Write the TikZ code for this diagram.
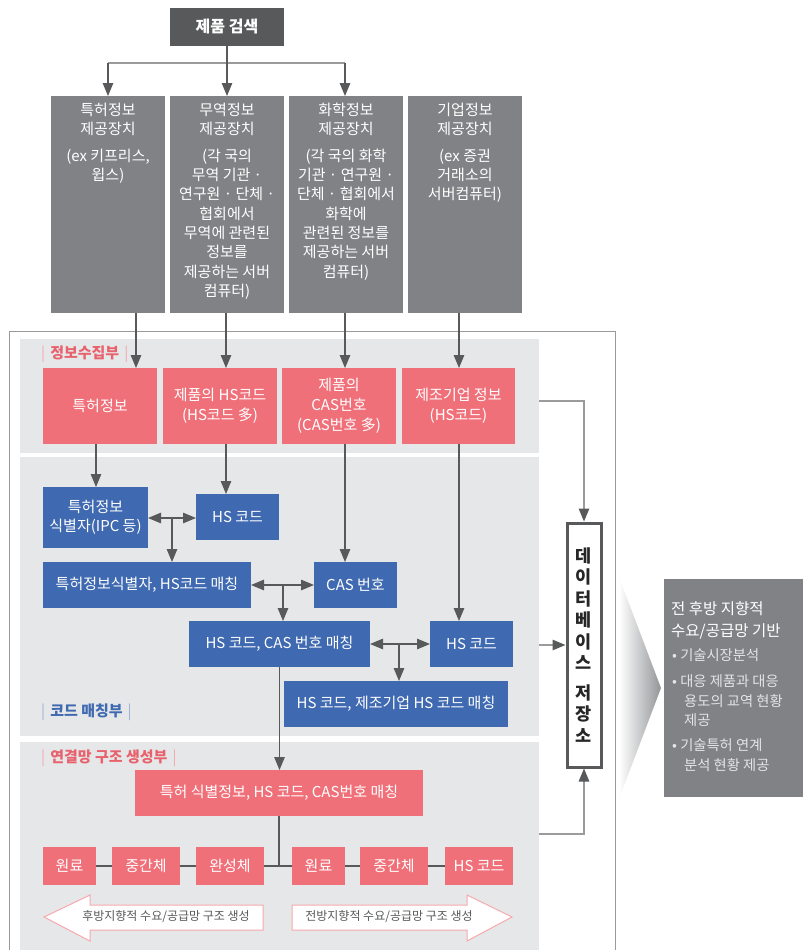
\documentclass[tikz,border=0pt]{standalone}
\usepackage{fontspec}
\setmainfont{Noto Sans CJK KR}
\usetikzlibrary{arrows.meta,calc}
\definecolor{dark}{HTML}{58595B}
\definecolor{gbox}{HTML}{808285}
\definecolor{secbg}{HTML}{E6E7E8}
\definecolor{pinkc}{HTML}{F0707A}
\definecolor{bluc}{HTML}{3F69B0}
\definecolor{labc}{HTML}{E8626E}
\definecolor{labbar}{HTML}{F3A9AE}
\definecolor{blubar}{HTML}{9DB2D8}
\definecolor{lline}{HTML}{9B9B9B}
\definecolor{framec}{HTML}{9A9A9A}
\definecolor{bultxt}{HTML}{E4E4E4}
\newcommand\mkbox[7]{%
 \pgfmathsetmacro\mkw{#4-#2}\pgfmathsetmacro\mkh{#5-#3}%
 \node[#6,minimum width=\mkw pt,minimum height=\mkh pt] (#1) at ({(#2+#4)/2},{(#3+#5)/2}) {#7};}
\begin{document}
\begin{tikzpicture}[x=1pt,y=-1pt,
  font=\fontsize{15}{19.3}\selectfont,
  box/.style={inner sep=0pt,outer sep=0pt,align=center,text=white},
  grayb/.style={box,fill=gbox},
  pinkb/.style={box,fill=pinkc,font=\fontsize{15}{20}\selectfont},
  blueb/.style={box,fill=bluc},
  sec/.style={fill=secbg,inner sep=0pt,outer sep=0pt},
  gtext/.style={anchor=north,align=center,text=white,inner sep=0pt},
  ln/.style={draw=dark,line width=1.2pt},
  lln/.style={draw=lline,line width=1.2pt},
  arr/.style={draw=dark,line width=1.2pt,-{Triangle[length=13pt,width=10.5pt]}},
  biarr/.style={draw=dark,line width=1.2pt,{Triangle[length=13pt,width=10.5pt]}-{Triangle[length=13pt,width=10.5pt]}},
  dbarr/.style={draw=lline,line width=1.2pt,-{Triangle[length=13pt,width=10.5pt,color=dark]}},
  seclab/.style={anchor=west,inner sep=0pt,font=\fontsize{15}{17}\selectfont\bfseries},
  bul/.style={anchor=west,inner sep=0pt,text=bultxt,font=\fontsize{14.3}{19}\selectfont},
  ptxt/.style={anchor=west,inner sep=0pt,text=white,font=\fontsize{15.5}{21}\selectfont},
  atxt/.style={inner sep=0pt,text=dark,font=\fontsize{12}{14}\selectfont}
]
\useasboundingbox (0,0) rectangle (810,950);
% outer frame
\draw[draw=framec,line width=1pt] (9,960) -- (9,331) -- (615,331) -- (615,960);
% sections
\mkbox{sec1}{20}{339}{539}{453}{sec}{}
\mkbox{sec2}{20}{457}{539}{736}{sec}{}
\mkbox{sec3}{20}{742}{539}{955}{sec}{}
% top search box
\mkbox{search}{170}{8}{284}{46}{box,fill=dark,font=\fontsize{16}{18}\selectfont\bfseries}{제품 검색}
% gray provider boxes
\mkbox{g1}{51}{96}{165}{313}{grayb}{}
\mkbox{g2}{170}{96}{284}{313}{grayb}{}
\mkbox{g3}{289}{96}{403}{313}{grayb}{}
\mkbox{g4}{408}{96}{522}{313}{grayb}{}
\node[gtext] (g1t) at (g1.north |- 0,103) {특허정보\\제공장치\\[7pt](ex 키프리스,\\윕스)};
\node[gtext] (g2t) at (g2.north |- 0,103) {무역정보\\제공장치\\[7pt](각 국의\\무역 기관 ·\\연구원 · 단체 ·\\협회에서\\무역에 관련된\\정보를\\제공하는 서버\\컴퓨터)};
\node[gtext] (g3t) at (g3.north |- 0,103) {화학정보\\제공장치\\[7pt](각 국의 화학\\기관 · 연구원 ·\\단체 · 협회에서\\화학에\\관련된 정보를\\제공하는 서버\\컴퓨터)};
\node[gtext] (g4t) at (g4.north |- 0,103) {기업정보\\제공장치\\[7pt](ex 증권\\거래소의\\서버컴퓨터)};
% section labels
\node[seclab,text=labc] (l1) at (41,354) {\textcolor{labbar}{\mdseries|}\hspace{5pt}정보수집부\hspace{5pt}\textcolor{labbar}{\mdseries|}};
\node[seclab,text=bluc] (l2) at (41,712) {\textcolor{blubar}{\mdseries|}\hspace{5pt}코드 매칭부\hspace{5pt}\textcolor{blubar}{\mdseries|}};
\node[seclab,text=labc] (l3) at (41,758) {\textcolor{labbar}{\mdseries|}\hspace{5pt}연결망 구조 생성부\hspace{5pt}\textcolor{labbar}{\mdseries|}};
% pink boxes
\mkbox{p1}{43}{368}{157}{444}{pinkb}{특허정보}
\mkbox{p2}{163}{368}{277}{444}{pinkb}{제품의 HS코드\\(HS코드 多)}
\mkbox{p3}{282}{368}{396}{444}{pinkb}{제품의\\CAS번호\\(CAS번호 多)}
\mkbox{p4}{402}{368}{515}{444}{pinkb}{제조기업 정보\\(HS코드)}
% blue boxes
\mkbox{idf}{43}{487}{148}{548}{blueb}{특허정보\\식별자(IPC 등)}
\mkbox{hs1}{196}{494}{279}{540}{blueb}{HS 코드}
\mkbox{m1}{43}{562}{251}{608}{blueb}{특허정보식별자, HS코드 매칭}
\mkbox{cas}{314}{562}{397}{608}{blueb}{CAS 번호}
\mkbox{m2}{189}{621}{370}{667}{blueb}{HS 코드, CAS 번호 매칭}
\mkbox{hs2}{430}{621}{513}{667}{blueb}{HS 코드}
\mkbox{m3}{284}{681}{508}{727}{blueb}{HS 코드, 제조기업 HS 코드 매칭}
% section 3 boxes
\mkbox{pm}{135}{770}{423}{816}{pinkb}{특허 식별정보, HS 코드, CAS번호 매칭}
\mkbox{won1}{43}{847}{96}{885}{pinkb}{원료}
\mkbox{mid1}{112}{847}{180}{885}{pinkb}{중간체}
\mkbox{wan}{196}{847}{264}{885}{pinkb}{완성체}
\mkbox{won2}{292}{847}{345}{885}{pinkb}{원료}
\mkbox{mid2}{360}{847}{428}{885}{pinkb}{중간체}
\mkbox{hs3}{445}{847}{513}{885}{pinkb}{HS 코드}
% database box
\mkbox{db}{567}{523}{601}{767}{draw=dark,line width=3pt,fill=white}{}
\node[inner sep=0pt,align=center,text=black!85,font=\fontsize{17.5}{21.5}\selectfont\bfseries] (dbt) at (db.center) {데\\이\\터\\베\\이\\스\\[8pt]저\\장\\소};
% right panel
\shade[left color=white,right color=gbox!85] (619,577) -- (661,688) -- (619,799) -- cycle;
\mkbox{panel}{664}{579}{803}{797}{fill=gbox}{}
\node[ptxt] (ph1) at (671,609) {전 후방 지향적};
\node[ptxt] (ph2) at (671,631) {수요/공급망 기반};
\node[bul] (b1) at (672,655) {• 기술시장분석};
\node[bul] (b2) at (672,681) {• 대응 제품과 대응};
\node[bul] (b2b) at (684,701) {용도의 교역 현황};
\node[bul] (b2c) at (684,720) {제공};
\node[bul] (b3) at (672,745) {• 기술특허 연계};
\node[bul] (b3b) at (684,765) {분석 현황 제공};
% bottom big arrows
\draw[draw=pinkc!60,fill=white,line width=1pt] (44,917) -- (90,895) -- (90,905) -- (263,905) -- (263,930) -- (90,930) -- (90,941) -- cycle;
\draw[draw=pinkc!60,fill=white,line width=1pt] (512,917) -- (467,895) -- (467,905) -- (292,905) -- (292,930) -- (467,930) -- (467,941) -- cycle;
\node[atxt] (lt) at (166,917) {후방지향적 수요/공급망 구조 생성};
\node[atxt] (rt) at (389,917) {전방지향적 수요/공급망 구조 생성};
% coordinates
\coordinate (hl) at (108,63);
\coordinate (hr) at (345,63);
\coordinate (xb) at (226,0);
\coordinate (xc) at (345,0);
\coordinate (xd) at (459,0);
\coordinate (xe) at (136,0);
\coordinate (xf) at (96,0);
\coordinate (j1) at (172,518);
\coordinate (j2) at (283,585);
\coordinate (j3) at (399,644);
\coordinate (d1) at (539,401);
\coordinate (d3) at (539,834);
% top connectors
\draw[lln] (hl) -- (hr);
\draw[arr] (search.south) -- (g2.north -| search.south);
\draw[arr] (hl) -- (g1.north -| hl);
\draw[arr] (hr) -- (g3.north -| hr);
% gray -> pink
\draw[arr] (g1.south -| xe) -- (p1.north -| xe);
\draw[arr] (g2.south -| xb) -- (p2.north -| xb);
\draw[arr] (g3.south -| xc) -- (p3.north -| xc);
\draw[arr] (g4.south -| xd) -- (p4.north -| xd);
% pink -> blue
\draw[arr] (p1.south -| xf) -- (idf.north -| xf);
\draw[arr] (p2.south -| xb) -- (hs1.north -| xb);
\draw[arr] (p3.south -| xc) -- (cas.north -| xc);
\draw[arr] (p4.south -| xd) -- (hs2.north -| xd);
% matching arrows
\draw[biarr] (idf.east |- j1) -- (hs1.west |- j1);
\draw[arr] (j1) -- (m1.north -| j1);
\draw[biarr] (m1.east |- j2) -- (cas.west |- j2);
\draw[arr] (j2) -- (m2.north -| j2);
\draw[biarr] (m2.east |- j3) -- (hs2.west |- j3);
\draw[arr] (j3) -- (m3.north -| j3);
\draw[arr] (m2.south) -- (pm.north -| m2.south);
% section 3 row
\coordinate (rj) at (pm.south |- wan.east);
\draw[ln] (pm.south) -- (rj);
\draw[ln] (won1.east) -- (mid1.west);
\draw[ln] (mid1.east) -- (wan.west);
\draw[ln] (wan.east) -- (won2.west);
\draw[ln] (won2.east) -- (mid2.west);
\draw[ln] (mid2.east) -- (hs3.west);
% database connectors
\draw[dbarr] (d1) -| (db.north);
\draw[dbarr] (sec2.east |- db.west) -- (db.west);
\draw[dbarr] (d3) -| (db.south);
\end{tikzpicture}
\end{document}
